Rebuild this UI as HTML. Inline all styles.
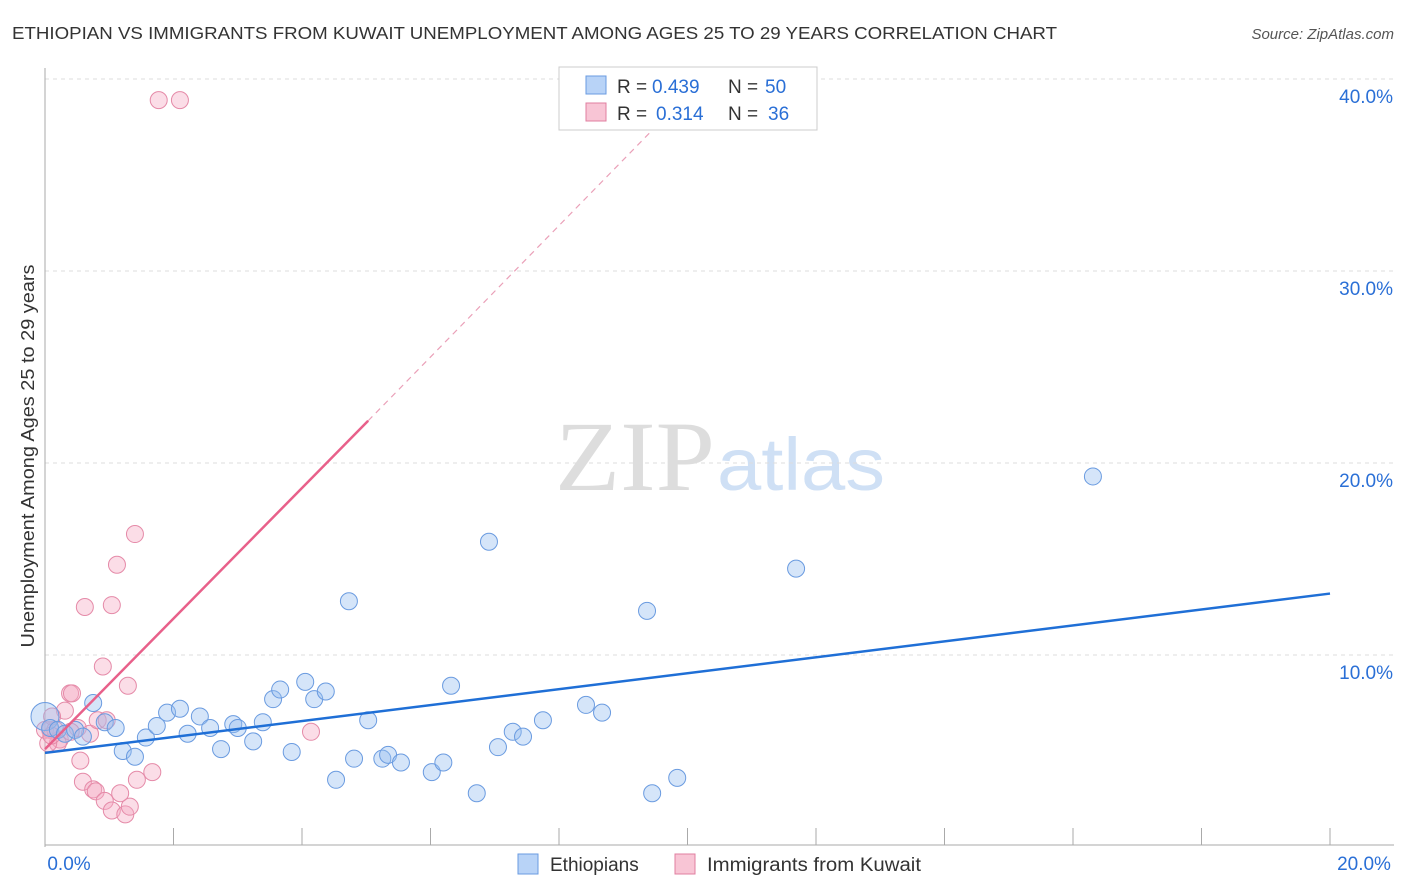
<!DOCTYPE html>
<html><head><meta charset="utf-8"><style>
body{margin:0;background:#fff;font-family:"Liberation Sans",sans-serif}
svg{display:block}
</style></head><body>
<svg id="c" width="1406" height="892">
<text x="12" y="39" font-size="17.5" fill="#333" textLength="1045" lengthAdjust="spacingAndGlyphs">ETHIOPIAN VS IMMIGRANTS FROM KUWAIT UNEMPLOYMENT AMONG AGES 25 TO 29 YEARS CORRELATION CHART</text>
<text x="1394" y="39" font-size="15" fill="#555" font-style="italic" text-anchor="end">Source: ZipAtlas.com</text>
<text x="635" y="490" font-size="100" fill="#ddd" font-family="Liberation Serif,serif" text-anchor="middle" textLength="160" lengthAdjust="spacingAndGlyphs">ZIP</text>
<text x="801" y="490" font-size="74" fill="#cfe0f5" text-anchor="middle" textLength="168" lengthAdjust="spacingAndGlyphs">atlas</text>
<text transform="translate(34,456) rotate(-90)" font-size="18" fill="#333" text-anchor="middle" textLength="383" lengthAdjust="spacingAndGlyphs">Unemployment Among Ages 25 to 29 years</text>
<g id="grid"></g><g id="pts"></g><g id="lines"></g>
<g>
<rect x="559" y="67" width="258" height="63" fill="#fff" stroke="#ccc"/>
<rect x="586" y="76" width="20" height="18" fill="#b8d3f7" stroke="#6a9be0"/>
<text x="617" y="93" font-size="19" fill="#333">R =</text>
<text x="652" y="93" font-size="19" fill="#2a6fd6">0.439</text>
<text x="728" y="93" font-size="19" fill="#333">N =</text>
<text x="765" y="93" font-size="19" fill="#2a6fd6">50</text>
<rect x="586" y="103" width="20" height="18" fill="#f8c5d5" stroke="#e07fa0"/>
<text x="617" y="120" font-size="19" fill="#333">R =</text>
<text x="656" y="120" font-size="19" fill="#2a6fd6">0.314</text>
<text x="728" y="120" font-size="19" fill="#333">N =</text>
<text x="768" y="120" font-size="19" fill="#2a6fd6">36</text>
</g>
<g>
<rect x="518" y="854" width="20" height="20" fill="#b8d3f7" stroke="#6a9be0"/>
<text x="550" y="871" font-size="19" fill="#333">Ethiopians</text>
<rect x="675" y="854" width="20" height="20" fill="#f8c5d5" stroke="#e07fa0"/>
<text x="707" y="871" font-size="19" fill="#333" textLength="214" lengthAdjust="spacingAndGlyphs">Immigrants from Kuwait</text>
</g>
</svg>
<script>
const yTicks=[10,20,30,40];
const xTickLabels=["0.0%","20.0%"];
const blueX=[0.0,0.08,0.2,0.31,0.47,0.59,0.75,0.93,1.1,1.21,1.4,1.57,1.74,1.9,2.1,2.22,2.41,2.57,2.74,2.93,3.0,3.24,3.39,3.55,3.66,3.84,4.05,4.19,4.37,4.53,4.73,4.81,5.03,5.25,5.34,5.54,6.02,6.2,6.32,6.72,6.91,7.05,7.28,7.44,7.75,8.42,8.67,9.37,9.45,9.84,11.69,16.31];
const blueY=[6.8,6.2,6.1,5.9,6.1,5.75,7.5,6.5,6.2,5.0,4.7,5.7,6.3,7.0,7.2,5.9,6.8,6.2,5.1,6.4,6.2,5.5,6.5,7.7,8.2,4.95,8.6,7.7,8.1,3.5,12.8,4.6,6.6,4.6,4.8,4.4,3.9,4.4,8.4,2.8,15.9,5.2,6.0,5.75,6.6,7.4,7.0,12.3,2.8,3.6,14.5,19.3];
const pinkX=[1.77,2.1,1.4,1.12,0.62,1.04,0.9,1.29,0.39,0.42,0.08,0.23,0.31,0.2,0.51,0.7,0.82,0.96,0.55,0.59,0.75,0.79,0.93,1.04,1.17,1.25,1.32,1.43,1.67,4.14,0.0,0.05,0.16,0.11,0.4,0.1];
const pinkY=[38.9,38.9,16.3,14.7,12.5,12.6,9.4,8.4,8.0,8.0,6.1,5.6,7.1,5.4,6.2,5.9,6.6,6.6,4.5,3.4,3.0,2.9,2.4,1.9,2.8,1.7,2.1,3.5,3.9,6.0,6.1,5.4,6.1,6.8,6.0,5.8];
const blueLine=[0,4.9,20,13.2];
const pinkLine=[0,5.1,5.03,22.2,9.5,37.5];
const X=v=>45+v*64.25, Y=v=>847-v*19.2;
const ns="http://www.w3.org/2000/svg";
function mk(t,a,p){const e=document.createElementNS(ns,t);for(const k in a)e.setAttribute(k,a[k]);p.appendChild(e);return e;}
const g=document.getElementById('grid');
yTicks.forEach(t=>{const l=mk('line',{x1:45,x2:1394,y1:Y(t),y2:Y(t),stroke:'#ddd','stroke-dasharray':'4,4'},g);


const tx=mk('text',{x:1393,y:Y(t)+24,'font-size':19,fill:'#2a6fd6','text-anchor':'end'},g);tx.textContent=t.toFixed(1)+'%';

});
const ax=mk('line',{x1:45,x2:45,y1:68,y2:847,stroke:'#aaa'},g);


const bx=mk('line',{x1:45,x2:1394,y1:845,y2:845,stroke:'#aaa'},g);


for(let i=1;i<=10;i++){const t=mk('line',{x1:X(i*2),x2:X(i*2),y1:828,y2:845,stroke:'#aaa'},g);

}
[[X(0)+24,xTickLabels[0]],[X(20)+34,xTickLabels[1]]].forEach(([x,s])=>{const t=mk('text',{x:x,y:870,'font-size':19,fill:'#2a6fd6','text-anchor':'middle'},g);t.textContent=s;

});
const p=document.getElementById('pts');
pinkX.forEach((x,i)=>{const c=mk('circle',{cx:X(x),cy:Y(pinkY[i]),r:8.5,fill:'rgba(245,170,195,0.4)',stroke:'#e58aa8','stroke-width':1},p);

});
blueX.forEach((x,i)=>{const c=mk('circle',{cx:X(x),cy:Y(blueY[i]),r:i==0?14:8.5,fill:'rgba(150,190,240,0.4)',stroke:'#6a9be0','stroke-width':1},p);

});
const L=document.getElementById('lines');
const b=mk('line',{x1:X(blueLine[0]),y1:Y(blueLine[1]),x2:X(blueLine[2]),y2:Y(blueLine[3]),stroke:'#1f6fd6','stroke-width':2.5},L);


const pk=mk('line',{x1:X(pinkLine[0]),y1:Y(pinkLine[1]),x2:X(pinkLine[2]),y2:Y(pinkLine[3]),stroke:'#e8608a','stroke-width':2.5},L);


const pd=mk('line',{x1:X(pinkLine[2]),y1:Y(pinkLine[3]),x2:X(pinkLine[4]),y2:Y(pinkLine[5]),stroke:'#eaa0b8','stroke-width':1.2,'stroke-dasharray':'6,5'},L);


</script>
</body></html>
